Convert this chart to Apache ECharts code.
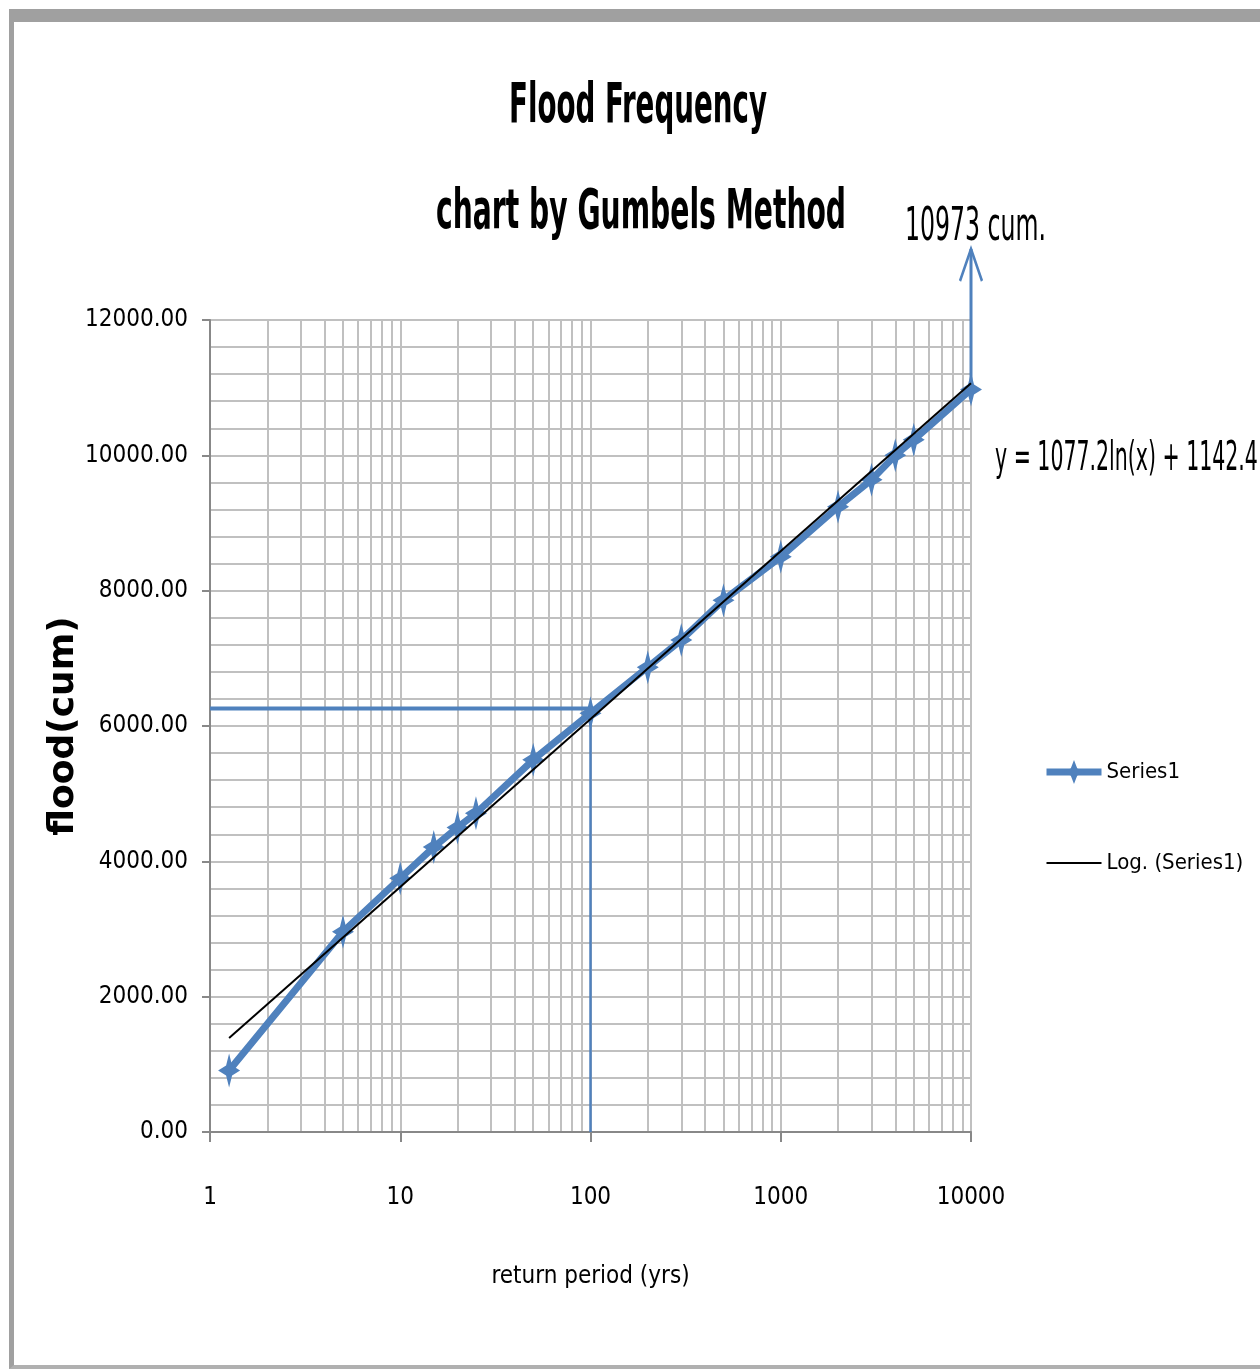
<!DOCTYPE html>
<html>
<head>
<meta charset="utf-8">
<title>Flood Frequency</title>
<script src="https://cdn.jsdelivr.net/npm/echarts@6/dist/echarts.min.js"></script>
<style>
html, body { margin: 0; padding: 0; background: #fff; }
#main { width: 1260px; height: 1369px; }
.frame {
  position: absolute; left: 9px; top: 9px; width: 1260px; height: 1343px;
  border-top: 13px solid #a0a0a0; border-left: 5px solid #a0a0a0; border-bottom: 4px solid #b0b0b0;
  pointer-events: none;
}
</style>
</head>
<body>
<div id="main"></div>
<div class="frame"></div>
<script>
// return period (yrs) / flood (cum)
const returnPeriod = [1.26, 5, 10, 15, 20, 25, 50, 100, 200, 300, 500, 1000, 2000, 3000, 4000, 5000, 10000]
const flood = [910, 2960, 3750, 4210, 4500, 4710, 5500, 6190, 6870, 7270, 7860, 8500, 9240, 9640, 10000, 10230, 10973]
// ends of the log trendline, y = 1077.2ln(x) + 1142.4
const trendX = [1.26, 10000]
const trendY = [1391, 11064]
// 100 yr reading and the 10000 yr arrow
const designT = 100
const designQ = 6260
const maxT = 10000
const maxQ = 10973
const arrowTop = 13050
// minor log grid lines (2..9 in every decade)
const minorX = [2, 3, 4, 5, 6, 7, 8, 9, 20, 30, 40, 50, 60, 70, 80, 90,
  200, 300, 400, 500, 600, 700, 800, 900, 2000, 3000, 4000, 5000, 6000, 7000, 8000, 9000]

const narrow = "'Liberation Sans Narrow', 'DejaVu Sans Condensed', sans-serif"
const blue = '#4f81bd'
const gridColor = '#c0c0c0'
const star = 'path://M11,0 L14,12 L22,17 L14,22 L11,34 L8,22 L0,17 L8,12 Z'

const chart = echarts.init(document.getElementById('main'))

const option = {
  backgroundColor: '#fff',
  animation: false,
  textStyle: { fontFamily: narrow, color: '#000' },
  grid: { left: 210, top: 320, width: 761, height: 812 },
  legend: {
    orient: 'vertical',
    left: 1043,
    top: 760,
    padding: 0,
    itemWidth: 55,
    itemHeight: 30,
    itemGap: 67,
    textStyle: { fontFamily: narrow, fontSize: 22, color: '#000' },
    data: [
      { name: 'Series1', lineStyle: { width: 7 } },
      { name: 'Log. (Series1)', lineStyle: { width: 2 }, itemStyle: { opacity: 0 } },
    ],
  },
  xAxis: {
    type: 'log',
    logBase: 10,
    min: 1,
    max: 10000,
    name: 'return period (yrs)',
    nameLocation: 'middle',
    nameGap: 133,
    nameMoveOverlap: false,
    nameTextStyle: { fontFamily: narrow, fontSize: 24, color: '#000' },
    axisLine: { lineStyle: { color: '#888', width: 2 } },
    axisTick: { show: true, length: 10, lineStyle: { color: '#888', width: 2 } },
    axisLabel: { fontFamily: narrow, fontSize: 24, color: '#000', margin: 54, formatter: (v) => String(v) },
    splitLine: { show: true, lineStyle: { color: gridColor, width: 2 } },
  },
  yAxis: {
    type: 'value',
    min: 0,
    max: 12000,
    interval: 2000,
    name: 'flood(cum)',
    nameLocation: 'middle',
    nameGap: 128,
    nameMoveOverlap: false,
    nameTextStyle: { fontFamily: 'DejaVu Sans', fontWeight: 'bold', fontSize: 36, color: '#000' },
    axisLine: { show: true, lineStyle: { color: '#888', width: 2 } },
    axisTick: { show: true, length: 8, lineStyle: { color: '#888', width: 2 } },
    axisLabel: {
      fontFamily: narrow, fontSize: 24, color: '#000', margin: 22,
      formatter: (v) => v.toFixed(2),
    },
    splitLine: { show: true, lineStyle: { color: gridColor, width: 2 } },
    minorTick: { show: false, splitNumber: 5 },
    minorSplitLine: { show: true, lineStyle: { color: gridColor, width: 2 } },
  },
  graphic: [
    {
      type: 'text', x: 638, y: 107, scaleX: 0.55,
      style: { text: 'Flood Frequency', font: 'bold 56px ' + narrow, fill: '#000', align: 'center', verticalAlign: 'middle' },
    },
    {
      type: 'text', x: 641, y: 213, scaleX: 0.56,
      style: { text: 'chart by Gumbels Method', font: 'bold 56px ' + narrow, fill: '#000', align: 'center', verticalAlign: 'middle' },
    },
    {
      type: 'text', x: 905, y: 228, scaleX: 0.57,
      style: { text: '10973 cum.', font: '46px ' + narrow, fill: '#000', verticalAlign: 'middle' },
    },
    {
      type: 'text', x: 995, y: 460, scaleX: 0.57,
      style: { text: 'y = 1077.2ln(x) + 1142.4', font: '40px ' + narrow, fill: '#000', verticalAlign: 'middle' },
    },
  ],
  series: [
    {
      name: 'guide-h',
      type: 'line',
      data: [[1, designQ], [designT, designQ]],
      symbol: 'none',
      silent: true,
      lineStyle: { color: blue, width: 4 },
      z: 1,
      markLine: {
        silent: true,
        symbol: 'none',
        label: { show: false },
        lineStyle: { color: gridColor, width: 2, type: 'solid' },
        data: minorX.map((v) => ({ xAxis: v })),
        z: 0,
      },
    },
    {
      name: 'guide-v',
      type: 'line',
      data: [[designT, 0], [designT, designQ]],
      symbol: 'none',
      silent: true,
      lineStyle: { color: blue, width: 2.5 },
      z: 1,
    },
    {
      name: 'arrow',
      type: 'line',
      clip: false,
      silent: true,
      data: [
        { value: [maxT, maxQ], symbol: 'none' },
        {
          value: [maxT, arrowTop],
          symbol: 'path://M0,14 L10,0 L20,14',
          symbolSize: [22, 32],
          symbolOffset: [0, '50%'],
          itemStyle: { color: 'transparent', borderColor: blue, borderWidth: 3 },
        },
      ],
      showAllSymbol: true,
      lineStyle: { color: blue, width: 3 },
      z: 1,
    },
    {
      name: 'Series1',
      type: 'line',
      data: returnPeriod.map((t, i) => [t, flood[i]]),
      symbol: star,
      symbolSize: [22, 34],
      itemStyle: { color: blue },
      lineStyle: { color: blue, width: 7 },
      z: 3,
    },
    {
      name: 'Log. (Series1)',
      type: 'line',
      data: trendX.map((t, i) => [t, trendY[i]]),
      symbol: 'none',
      itemStyle: { color: '#000' },
      lineStyle: { color: '#000', width: 2 },
      z: 4,
    },
  ],
}

chart.setOption(option, true)
</script>
</body>
</html>
